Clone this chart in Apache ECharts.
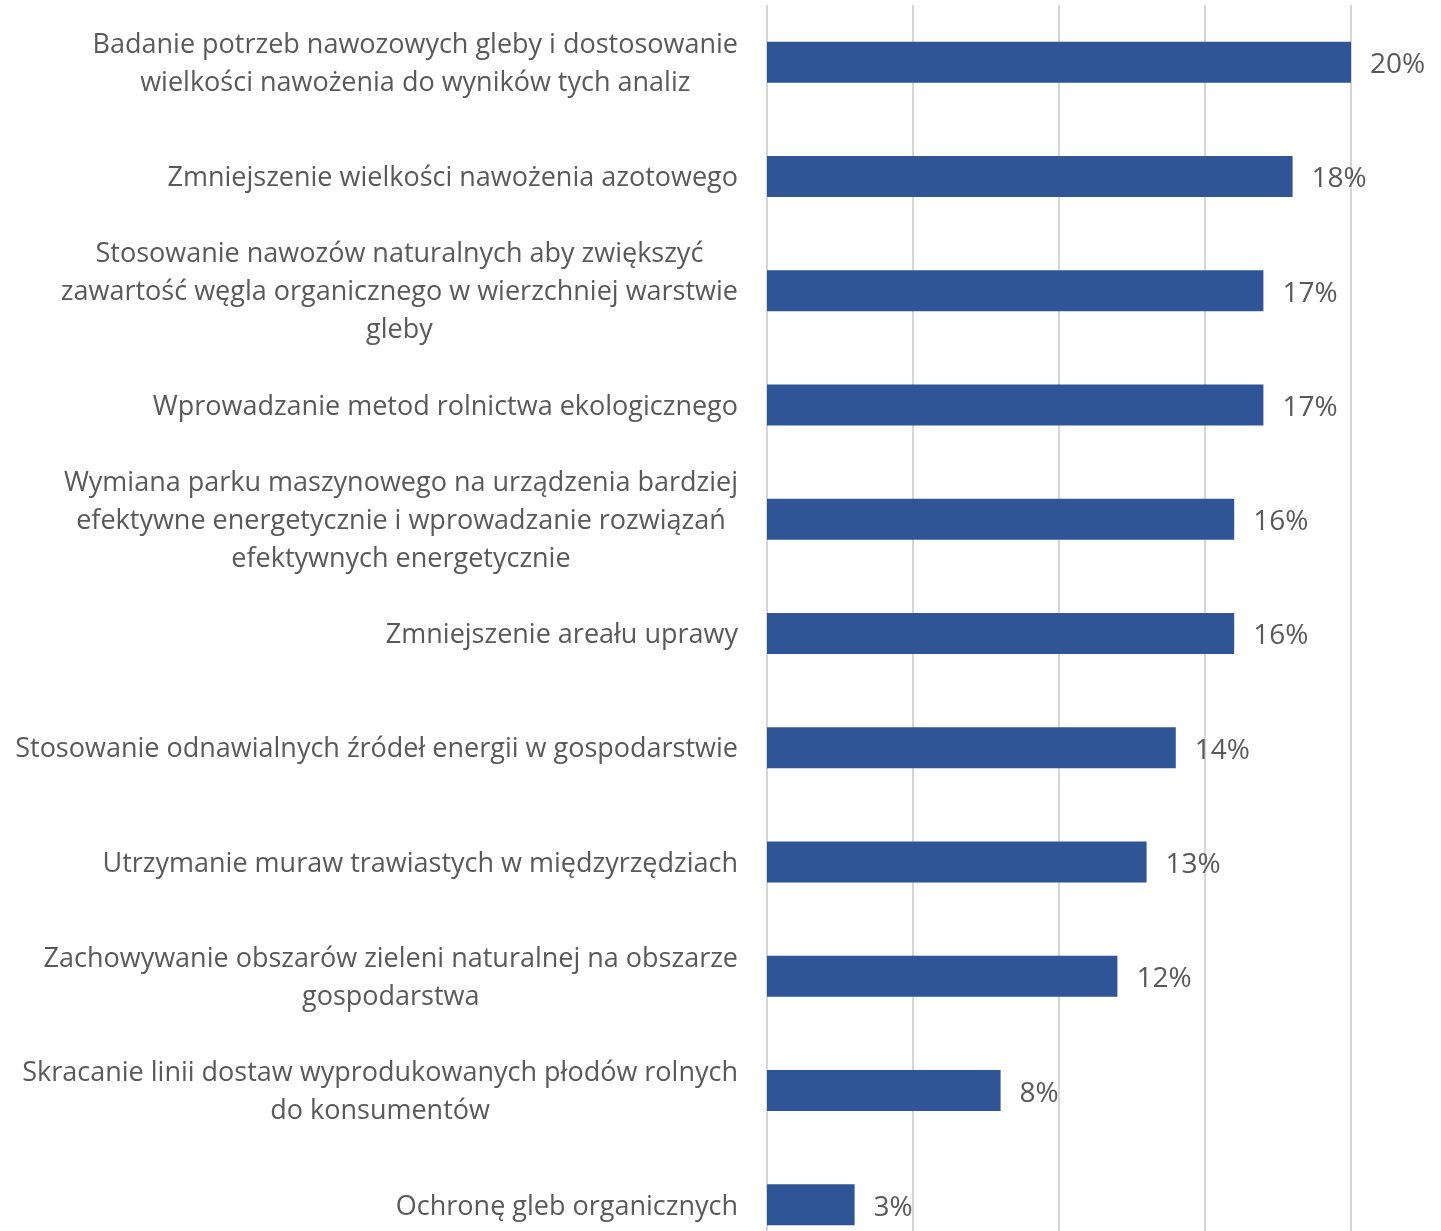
<!DOCTYPE html>
<html>
<head>
<meta charset="utf-8">
<script src="https://cdn.jsdelivr.net/npm/echarts@6/dist/echarts.min.js"></script>
<style>
html,body{margin:0;padding:0;background:#fff;overflow:hidden;}
#wrap{width:1441px;height:1231px;overflow:hidden;position:relative;}
#chart{width:1441px;height:1262px;}
</style>
</head>
<body>
<div id="wrap"><div id="chart"></div></div>
<script>
const categories = [
  "Badanie potrzeb nawozowych gleby i dostosowanie\nwielkości nawożenia do wyników tych analiz",
  "Zmniejszenie wielkości nawożenia azotowego",
  "Stosowanie nawozów naturalnych aby zwiększyć\nzawartość węgla organicznego w wierzchniej warstwie\ngleby",
  "Wprowadzanie metod rolnictwa ekologicznego",
  "Wymiana parku maszynowego na urządzenia bardziej\nefektywne energetycznie i wprowadzanie rozwiązań\nefektywnych energetycznie",
  "Zmniejszenie areału uprawy",
  "Stosowanie odnawialnych źródeł energii w gospodarstwie",
  "Utrzymanie muraw trawiastych w międzyrzędziach",
  "Zachowywanie obszarów zieleni naturalnej na obszarze\ngospodarstwa",
  "Skracanie linii dostaw wyprodukowanych płodów rolnych\ndo konsumentów",
  "Ochronę gleb organicznych"
];
const values = [20, 18, 17, 17, 16, 16, 14, 13, 12, 8, 3];
const xTicks = [0, 5, 10, 15, 20];

const FONT = "'Open Sans', 'Noto Sans', sans-serif";
const TXT = '#595959';
const FS = 27;

const chart = echarts.init(document.getElementById('chart'));
chart.setOption({
  animation: false,
  backgroundColor: '#ffffff',
  grid: { left: 767, right: 90, top: 5, bottom: 0, containLabel: false },
  xAxis: {
    type: 'value',
    min: xTicks[0],
    max: xTicks[xTicks.length - 1],
    interval: xTicks[1] - xTicks[0],
    axisLabel: { show: false },
    axisLine: { show: false },
    axisTick: { show: false },
    splitLine: { show: true, lineStyle: { color: '#d6d6d6', width: 2 } }
  },
  yAxis: {
    type: 'category',
    inverse: true,
    data: categories,
    axisLine: { show: false },
    axisTick: { show: false },
    axisLabel: {
      margin: 29,
      align: 'right',
      color: TXT,
      fontFamily: FONT,
      fontSize: FS,
      lineHeight: 38,
      padding: [4, 0, 0, 0],
      formatter: function (v) {
        return v.split('\n').map(function (s) { return '{c|' + s + '}'; }).join('\n');
      },
      rich: {
        c: { align: 'center', color: TXT, fontFamily: FONT, fontSize: FS, lineHeight: 38 }
      }
    }
  },
  series: [{
    type: 'bar',
    data: values,
    barWidth: 41,
    itemStyle: { color: '#2f5597' },
    label: {
      show: true,
      position: 'right',
      distance: 19,
      color: TXT,
      fontFamily: FONT,
      fontSize: 28,
      offset: [0, 3],
      formatter: function (p) { return p.value + '%'; }
    }
  }]
});
</script>
</body>
</html>
